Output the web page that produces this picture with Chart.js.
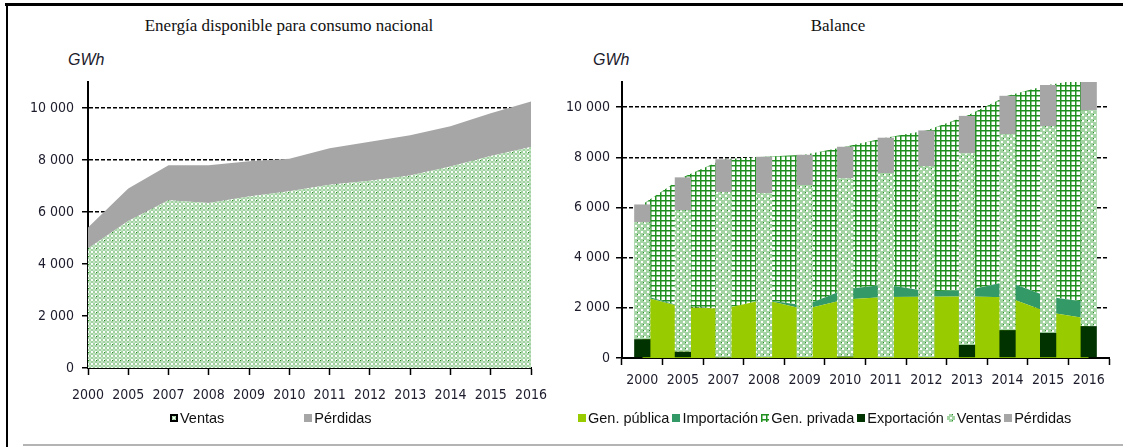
<!DOCTYPE html>
<html>
<head>
<meta charset="utf-8">
<script src="https://cdn.jsdelivr.net/npm/chart.js@4.4.1/dist/chart.umd.min.js"></script>
<style>
  html, body { margin: 0; padding: 0; background: #fff; }
  body { width: 1123px; height: 447px; position: relative; overflow: hidden; font-family: "Liberation Sans", Arial, sans-serif; }
  .frame-top { position: absolute; left: 5px; top: 3px; width: 1118px; height: 3px; background: #000; }
  .frame-left { position: absolute; left: 6px; top: 3px; width: 2px; height: 444px; background: #000; }
  .frame-bottom { position: absolute; left: 23px; top: 444px; width: 1100px; height: 2px; background: #b4b4b4; }
  .title { position: absolute; top: 16px; font-family: "Liberation Serif", "Times New Roman", serif; font-size: 17px; line-height: 20px; color: #111; white-space: nowrap; transform: translateX(-50%); }
  .unit { position: absolute; top: 51px; font-style: italic; font-size: 16px; line-height: 18px; color: #1c1c2c; }
  canvas.chart { position: absolute; top: 0; }
  .legend { position: absolute; top: 410px; display: flex; align-items: center; font-size: 14.5px; line-height: 16px; color: #111; white-space: nowrap; }
  .legend .item { display: flex; align-items: center; }
  .legend canvas { margin-right: 2px; }
</style>
</head>
<body>
<div class="frame-top"></div>
<div class="frame-left"></div>
<div class="frame-bottom"></div>

<div class="title" style="left:289px">Energía disponible para consumo nacional</div>
<div class="title" style="left:838px">Balance</div>
<div class="unit" style="left:68px">GWh</div>
<div class="unit" style="left:593px">GWh</div>

<canvas id="energiaChart" class="chart" width="560" height="447" style="left:0"></canvas>
<canvas id="balanceChart" class="chart" width="563" height="447" style="left:560px"></canvas>

<div id="energiaLegend" class="legend" style="left:170px; gap:80px"></div>
<div id="balanceLegend" class="legend" style="left:578px; gap:3px"></div>

<script>
// Data
const years = ['2000', '2005', '2007', '2008', '2009', '2010', '2011', '2012', '2013', '2014', '2015', '2016'];
const yTicks = [0, 2000, 4000, 6000, 8000, 10000];

// Energía disponible para consumo nacional (GWh)
const ventas = [4600, 5650, 6450, 6350, 6600, 6800, 7050, 7200, 7400, 7750, 8150, 8500];
const perdidas = [800, 1250, 1350, 1450, 1350, 1250, 1400, 1500, 1550, 1550, 1650, 1750];

// Balance (GWh) - oferta
const genPublica = [2450, 2020, 1960, 2320, 1940, 2330, 2430, 2440, 2450, 2420, 1820, 1560];
const importacion = [60, 20, 0, 0, 150, 410, 500, 220, 250, 630, 620, 660];
const genPrivada = [3610, 5160, 5960, 5700, 6010, 5680, 5850, 6410, 6950, 7400, 8440, 8930];
// Balance (GWh) - demanda
const exportacion = [750, 250, 20, 0, 0, 50, 30, 30, 520, 1110, 1000, 1270];
const ventasBalance = [4660, 5640, 6590, 6570, 6890, 7110, 7340, 7610, 7640, 7810, 8240, 8600];
const perdidasBalance = [710, 1310, 1310, 1450, 1210, 1260, 1410, 1430, 1490, 1530, 1640, 1280];

// Fonts
function fontAvailable(name) {
    const g = document.createElement('canvas').getContext('2d');
    const s = 'abcdefghijklmnopqrstuvwxyz 0123456789';
    g.font = '40px monospace';
    const a = g.measureText(s).width;
    g.font = '40px "' + name + '", monospace';
    return g.measureText(s).width !== a;
}
let tickFont = { family: '"Liberation Sans", Arial, sans-serif', size: 13 };
if (fontAvailable('Liberation Sans Narrow')) {
    tickFont = { family: '"Liberation Sans Narrow", sans-serif', size: 16 };
} else if (fontAvailable('DejaVu Sans Condensed')) {
    tickFont = { family: '"DejaVu Sans Condensed", sans-serif', size: 14 };
}
const tickColor = '#1c1c2c';

// Fill patterns
function makePattern(size, draw) {
    const c = document.createElement('canvas');
    c.width = size;
    c.height = size;
    const g = c.getContext('2d');
    draw(g, size);
    return g.createPattern(c, 'repeat');
}

const ventasPattern = makePattern(8, (g) => {
    g.fillStyle = '#fff';
    g.fillRect(0, 0, 8, 8);
    g.strokeStyle = '#74bd74';
    g.lineWidth = 0.9;
    [[2, 2], [6, 2], [2, 6], [6, 6]].forEach(([x, y]) => {
        g.beginPath();
        g.arc(x, y, 1.4, 0, Math.PI * 2);
        g.stroke();
    });
    g.fillStyle = '#2a8a2a';
    g.fillRect(0, 0, 1, 1);
});

const ventasBarPattern = makePattern(6, (g) => {
    g.fillStyle = '#a4d4a4';
    g.fillRect(0, 0, 6, 6);
    g.fillStyle = '#fff';
    g.fillRect(0, 0, 2, 2);
    g.fillRect(3, 3, 2, 2);
    g.fillStyle = '#2f8f2f';
    g.fillRect(5, 0, 1, 1);
});

const gridPattern = makePattern(5, (g) => {
    g.fillStyle = '#fff';
    g.fillRect(0, 0, 5, 5);
    g.fillStyle = '#1f8f1f';
    g.fillRect(0, 0, 5, 1.5);
    g.fillRect(0, 0, 1.5, 5);
});

const formatGWh = (v) => String(v).replace(/\B(?=(\d{3})+(?!\d))/g, ' ');

function yScale(width, padding) {
    return {
        stacked: true,
        min: 0,
        max: 11000,
        afterBuildTicks: (scale) => { scale.ticks = yTicks.map(v => ({ value: v })); },
        afterFit: (scale) => { scale.width = width; },
        grid: {
            color: (ctx) => ctx.tick && ctx.tick.value === 0 ? 'rgba(0,0,0,0)' : '#000',
            lineWidth: 1.5,
            tickColor: '#000',
            tickLength: 6,
            tickWidth: 1.5
        },
        border: { color: '#000', width: 2, dash: [4, 2] },
        ticks: {
            color: tickColor,
            font: tickFont,
            padding: padding,
            callback: formatGWh
        }
    };
}

function xScale(padding, extra) {
    return Object.assign({
        afterFit: (scale) => { scale.height = 35; },
        grid: { drawOnChartArea: false, color: '#000', tickColor: '#000', tickLength: 7, tickWidth: 1.5 },
        border: { color: '#000', width: 2 },
        ticks: { color: tickColor, font: tickFont, padding: padding, maxRotation: 0, autoSkip: false }
    }, extra);
}

// Energía disponible para consumo nacional
const energiaChart = new Chart(document.getElementById('energiaChart'), {
    type: 'line',
    data: {
        labels: years,
        datasets: [
            {
                label: 'Ventas',
                data: ventas,
                fill: 'origin',
                backgroundColor: ventasPattern,
                borderColor: 'rgba(0,0,0,0)',
                borderWidth: 0,
                pointRadius: 0
            },
            {
                label: 'Pérdidas',
                data: perdidas,
                fill: '-1',
                backgroundColor: '#a6a6a6',
                borderColor: 'rgba(0,0,0,0)',
                borderWidth: 0,
                pointRadius: 0
            }
        ]
    },
    options: {
        responsive: false,
        animation: false,
        events: [],
        layout: { padding: { top: 82, right: 29, bottom: 44, left: 0 } },
        plugins: { legend: { display: false }, tooltip: { enabled: false } },
        scales: {
            x: xScale(12, { offset: false }),
            y: yScale(88, 8)
        }
    }
});

// Balance
const balanceChart = new Chart(document.getElementById('balanceChart'), {
    type: 'bar',
    data: {
        labels: years,
        datasets: [
            {
                type: 'line',
                label: 'Gen. pública',
                data: genPublica,
                stack: 'oferta',
                order: 1,
                fill: 'origin',
                backgroundColor: '#99cc00',
                borderColor: 'rgba(0,0,0,0)',
                borderWidth: 0,
                pointRadius: 0
            },
            {
                type: 'line',
                label: 'Importación',
                data: importacion,
                stack: 'oferta',
                order: 1,
                fill: '-1',
                backgroundColor: '#339966',
                borderColor: 'rgba(0,0,0,0)',
                borderWidth: 0,
                pointRadius: 0
            },
            {
                type: 'line',
                label: 'Gen. privada',
                data: genPrivada,
                stack: 'oferta',
                order: 1,
                fill: '-1',
                backgroundColor: gridPattern,
                borderColor: 'rgba(0,0,0,0)',
                borderWidth: 0,
                pointRadius: 0
            },
            {
                label: 'Exportación',
                data: exportacion,
                stack: 'demanda',
                order: 0,
                backgroundColor: '#003300'
            },
            {
                label: 'Ventas',
                data: ventasBalance,
                stack: 'demanda',
                order: 0,
                backgroundColor: ventasBarPattern
            },
            {
                label: 'Pérdidas',
                data: perdidasBalance,
                stack: 'demanda',
                order: 0,
                backgroundColor: '#a6a6a6'
            }
        ]
    },
    options: {
        responsive: false,
        animation: false,
        events: [],
        barPercentage: 0.4,
        categoryPercentage: 1,
        layout: { padding: { top: 82, right: 14, bottom: 54, left: 0 } },
        plugins: { legend: { display: false }, tooltip: { enabled: false } },
        scales: {
            x: xScale(7, { stacked: true }),
            y: yScale(62, 6)
        }
    }
});

// Legends
function buildLegend(id, chart, outlined) {
    const box = document.getElementById(id);
    chart.data.datasets.forEach((ds) => {
        const item = document.createElement('span');
        item.className = 'item';
        const sw = document.createElement('canvas');
        sw.width = 8;
        sw.height = 8;
        const g = sw.getContext('2d');
        g.fillStyle = ds.backgroundColor;
        g.fillRect(0, 0, 8, 8);
        if (outlined.includes(ds.label)) {
            g.strokeStyle = '#000';
            g.lineWidth = 2;
            g.strokeRect(1, 1, 6, 6);
        }
        item.appendChild(sw);
        item.appendChild(document.createTextNode(ds.label));
        box.appendChild(item);
    });
}
buildLegend('energiaLegend', energiaChart, ['Ventas']);
buildLegend('balanceLegend', balanceChart, []);
</script>
</body>
</html>
